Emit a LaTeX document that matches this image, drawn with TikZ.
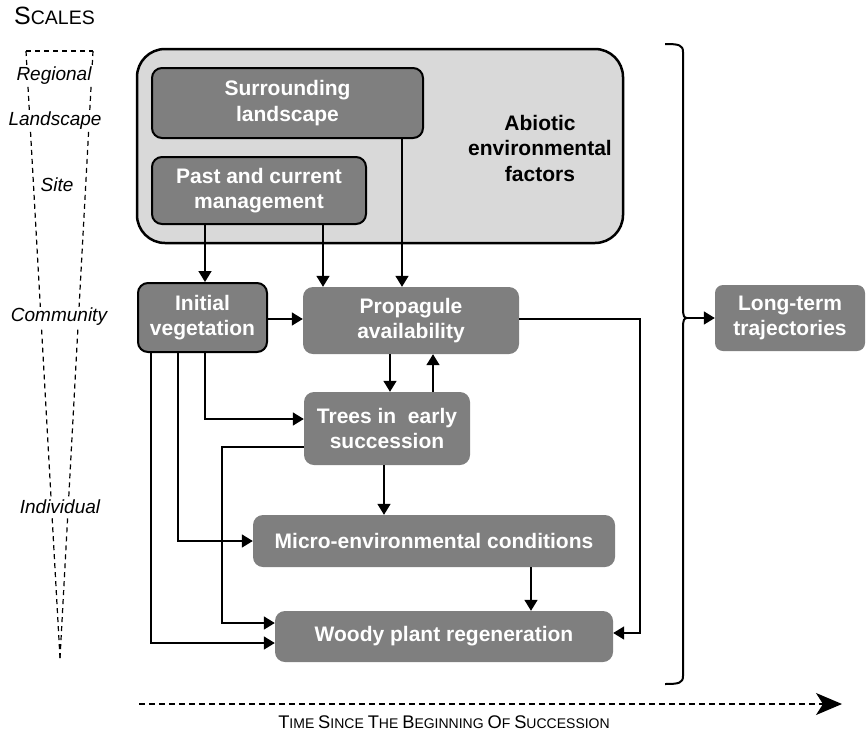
\documentclass[tikz,border=0pt]{standalone}
\usepackage{fontspec}
\setmainfont{Liberation Sans}
\usetikzlibrary{arrows.meta}
\definecolor{boxgray}{RGB}{127,127,127}
\definecolor{biggray}{RGB}{217,217,217}
\begin{document}
\begin{tikzpicture}[x=1pt,y=-1pt,
  gbox/.style={rounded corners=10pt, fill=boxgray, text=white, align=center,
    font=\fontsize{21}{25.5}\selectfont\bfseries, inner sep=0pt},
  gboxb/.style={gbox, draw=black, line width=2pt},
  arr/.style={line width=1.6pt, -{Triangle[length=11pt,width=13pt]}},
  lab/.style={fill=white, inner sep=1.5pt, font=\fontsize{19}{21}\selectfont\itshape},
  wedge/.style={line width=1.2pt, dash pattern=on 5pt off 4pt}
]
\useasboundingbox (0,0) rectangle (866,734);

% Scales title
\node[anchor=base west, inner sep=0pt] (scales) at (14,24)
  {{\fontsize{25}{26}\selectfont S}{\fontsize{19.5}{20}\selectfont CALES}};

% wedge
\coordinate (wtl) at (26,51);
\coordinate (wtr) at (93,51);
\coordinate (wtip) at (60,658);
\draw[wedge] (wtl) -- (wtr);
\draw[wedge] (wtl) -- (wtip);
\draw[wedge] (wtr) -- (wtip);
\node[lab] (regional) at (54,76) {Regional};
\node[lab] (landscape) at (55,121) {Landscape};
\node[lab] (site) at (57,185) {Site};
\node[lab] (community) at (59,317) {Community};
\node[lab] (individual) at (60,507) {Individual};

% abiotic big box
\node[draw=black, line width=2.5pt, fill=biggray, rounded corners=28pt,
  minimum width=486pt, minimum height=194pt, inner sep=0pt] (abiotic) at (380,146) {};
\node[align=center, font=\fontsize{21}{25.5}\selectfont\bfseries] (abtext) at (540,148)
  {Abiotic\\environmental\\factors};
\node[gboxb, minimum width=271pt, minimum height=70pt] (surr) at (287.5,103)
  {Surrounding\\landscape};
\node[gboxb, minimum width=214pt, minimum height=67pt] (mgmt) at (259,190.5)
  {Past and current\\management};

% lower boxes
\node[gboxb, minimum width=129pt, minimum height=69pt] (initveg) at (202.5,317.5)
  {Initial\\vegetation};
\node[gbox, minimum width=216pt, minimum height=67pt] (prop) at (411,320.5)
  {Propagule\\availability};
\node[gbox, minimum width=166pt, minimum height=73pt] (trees) at (387,428.5)
  {Trees in\ \ early\\succession};
\node[gbox, minimum width=362pt, minimum height=52pt] (micro) at (434,541)
  {Micro-environmental conditions};
\node[gbox, minimum width=338pt, minimum height=51pt] (woody) at (444,636.5)
  {Woody plant regeneration};
\node[gbox, rounded corners=8pt, minimum width=150pt, minimum height=66pt] (longterm) at (790,318)
  {Long-term\\trajectories};

% column / row coordinates
\coordinate (c151) at (151,0);
\coordinate (c178) at (178,0);
\coordinate (c205) at (205,0);
\coordinate (c222) at (222,0);
\coordinate (c323) at (323,0);
\coordinate (c384) at (384,0);
\coordinate (c390) at (390,0);
\coordinate (c402) at (402,0);
\coordinate (c433) at (433,0);
\coordinate (c531) at (531,0);
\coordinate (c640) at (640,0);
\coordinate (r319) at (0,319);
\coordinate (r419) at (0,419);
\coordinate (r447) at (0,447);
\coordinate (r541) at (0,541);
\coordinate (r623) at (0,623);
\coordinate (r633) at (0,633);
\coordinate (r643) at (0,643);

% connectors
\draw[arr] (mgmt.south -| c205) -- (initveg.north -| c205);
\draw[arr] (mgmt.south -| c323) -- (prop.north -| c323);
\draw[arr] (surr.south -| c402) -- (prop.north -| c402);
\draw[arr] (initveg.east |- r319) -- (prop.west |- r319);
\draw[arr] (prop.east |- r319) -| (c640 |- r633) -- (woody.east |- r633);
\draw[arr] (prop.south -| c390) -- (trees.north -| c390);
\draw[arr] (trees.north -| c433) -- (prop.south -| c433);
\draw[arr] (initveg.south -| c205) |- (trees.west |- r419);
\draw[arr] (trees.west |- r447) -| (c222 |- r623) -- (woody.west |- r623);
\draw[arr] (initveg.south -| c178) |- (micro.west |- r541);
\draw[arr] (initveg.south -| c151) |- (woody.west |- r643);
\draw[arr] (trees.south -| c384) -- (micro.north -| c384);
\draw[arr] (micro.south -| c531) -- (woody.north -| c531);

% brace
\coordinate (bt) at (687,318);
\draw[line width=2pt, line join=round] (665,44) .. controls (679,44) and (683,45) .. (683,52)
  -- (683,308) .. controls (683,316) and (684,318) .. (bt)
  .. controls (684,318) and (683,320) .. (683,328)
  -- (683,676) .. controls (683,683) and (679,684) .. (665,684);
\draw[arr] (bt) -- (longterm.west);

% time arrow
\coordinate (ts) at (139,704);
\coordinate (te) at (842,704);
\draw[line width=1.2pt, dash pattern=on 6pt off 4pt,
  -{Stealth[length=26pt,width=22pt,inset=7pt]}] (ts) -- (te);
\node[anchor=base, inner sep=0pt] (time) at (444,728)
  {{\fontsize{18.3}{19}\selectfont T}{\fontsize{14}{15}\selectfont IME }{\fontsize{18.3}{19}\selectfont S}{\fontsize{14}{15}\selectfont INCE }{\fontsize{18.3}{19}\selectfont T}{\fontsize{14}{15}\selectfont HE }{\fontsize{18.3}{19}\selectfont B}{\fontsize{14}{15}\selectfont EGINNING }{\fontsize{18.3}{19}\selectfont O}{\fontsize{14}{15}\selectfont F }{\fontsize{18.3}{19}\selectfont S}{\fontsize{14}{15}\selectfont UCCESSION}};
\end{tikzpicture}
\end{document}
